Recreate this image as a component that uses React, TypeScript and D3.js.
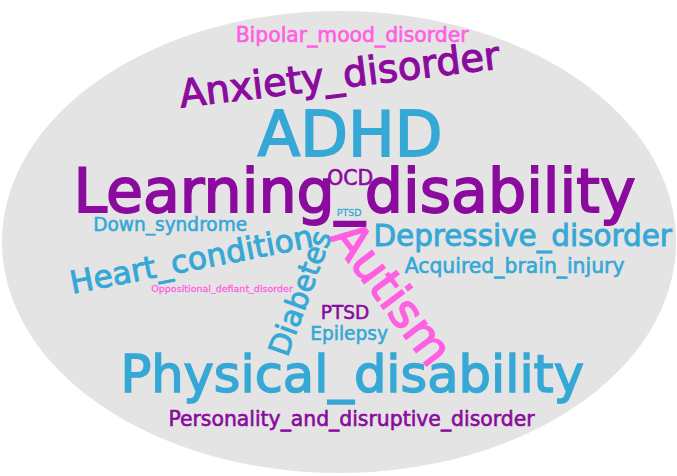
import React from "react";
import * as d3 from "d3";

// word list, estimated frequencies and colour group
const words = [
  "Bipolar_mood_disorder",
  "Anxiety_disorder",
  "ADHD",
  "Learning_disability",
  "OCD",
  "PTSD",
  "Down_syndrome",
  "Heart_condition",
  "Oppositional_defiant_disorder",
  "Diabetes",
  "Autism",
  "Depressive_disorder",
  "Acquired_brain_injury",
  "PTSD",
  "Epilepsy",
  "Physical_disability",
  "Personality_and_disruptive_disorder",
];
const counts = [7, 17, 30, 29, 7, 1, 6, 13, 1, 12, 22, 12, 7, 6, 6, 24, 7];
const groups = ["pink", "purple", "blue", "purple", "purple", "blue", "blue", "blue", "pink", "blue", "pink", "blue", "blue", "purple", "blue", "blue", "purple"];

// cloud layout result, in ellipse-relative units (-1..1) and degrees
const layoutU = [0.039, 0.001, 0.033, 0.046, 0.033, 0.03, -0.501, -0.438, -0.347, -0.115, 0.158, 0.545, 0.521, 0.018, 0.03, 0.039, 0.037];
const layoutV = [-0.896, -0.725, -0.466, -0.222, -0.279, -0.128, -0.074, 0.075, 0.203, 0.222, 0.222, -0.024, 0.102, 0.305, 0.396, 0.575, 0.768];
const layoutRot = [0, -7, 0, 0, 0, 0, 0, -11, 0, -70, 53, 0, 0, 0, 0, 0, 0];

const W = 677;
const H = 476;

export default function App() {
  const cx = 339, cy = 242, rx = 337, ry = 231;
  const x = d3.scaleLinear().domain([-1, 1]).range([cx - rx, cx + rx]);
  const y = d3.scaleLinear().domain([-1, 1]).range([cy - ry, cy + ry]);
  const size = d3.scaleLinear().domain([1, 30]).range([9.5, 62]);
  const color = d3
    .scaleOrdinal<string, string>()
    .domain(["purple", "blue", "pink"])
    .range(["#8a0b9e", "#35a8d6", "#ff5fe3"]);

  return (
    <svg
      width={W}
      height={H}
      style={{ position: "absolute", left: 0, top: 0, display: "block", background: "#fff" }}
    >
      <ellipse cx={cx} cy={cy} rx={rx} ry={ry} fill="#e4e4e4" />
      {words.map((w, i) => {
        const fs = size(counts[i]);
        const c = color(groups[i]);
        return (
          <text
            key={i}
            transform={`translate(${x(layoutU[i])},${y(layoutV[i])}) rotate(${layoutRot[i]})`}
            textAnchor="middle"
            dominantBaseline="central"
            fontFamily="'DejaVu Sans', sans-serif"
            fontSize={fs}
            fill={c}
            stroke={c}
            strokeWidth={fs * 0.03}
          >
            {w}
          </text>
        );
      })}
    </svg>
  );
}
